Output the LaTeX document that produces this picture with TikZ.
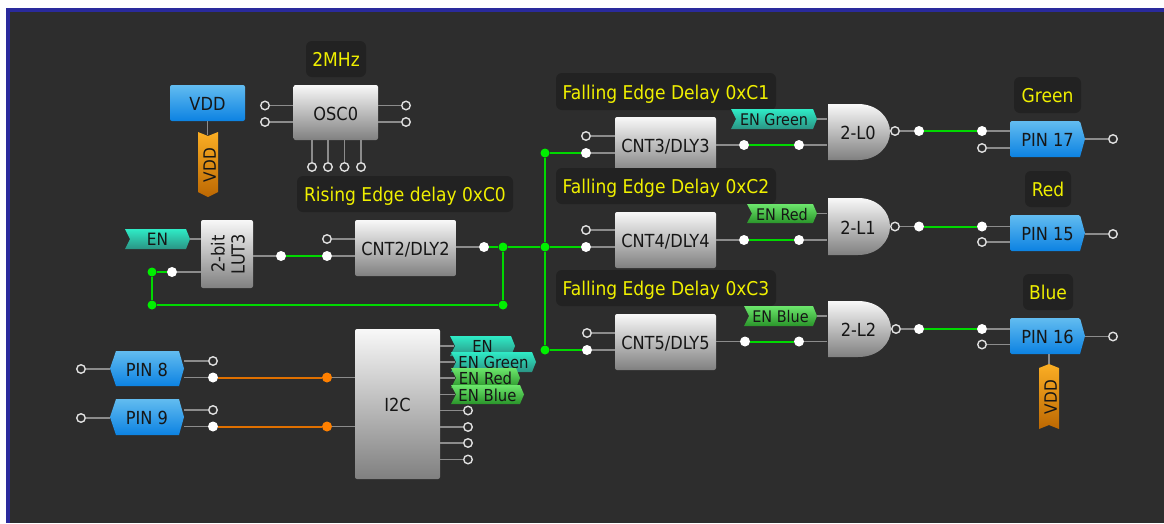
\documentclass[tikz,border=0pt]{standalone}
\usepackage{fontspec}
\usepackage{graphicx}
\setmainfont{DejaVu Sans Condensed}
\definecolor{bgdark}{HTML}{2D2D2D}
\definecolor{frameblue}{HTML}{2A2A9C}
\definecolor{labelbg}{HTML}{222222}
\definecolor{labeltxt}{HTML}{F0F000}
\definecolor{wiregreen}{HTML}{00D800}
\definecolor{dotgreen}{HTML}{00F000}
\definecolor{wireorange}{HTML}{E07000}
\definecolor{dotorange}{HTML}{FF8000}
\definecolor{stemgray}{HTML}{8C8C8C}
\definecolor{blktop}{HTML}{F8F8F8}
\definecolor{blkbot}{HTML}{808080}
\definecolor{bluetop}{HTML}{62BCF0}
\definecolor{bluebot}{HTML}{0C82E2}
\definecolor{orgtop}{HTML}{FBAE24}
\definecolor{orgbot}{HTML}{BC6802}
\definecolor{tealtop}{HTML}{2FEBC6}
\definecolor{tealbot}{HTML}{2A9484}
\definecolor{grntop}{HTML}{6CE66C}
\definecolor{grnbot}{HTML}{2A952A}
\definecolor{inktxt}{HTML}{161616}
\tikzset{
  blockbox/.style={rounded corners=2pt,top color=blktop,bottom color=blkbot,inner sep=0pt,text=inktxt,font=\fontsize{18}{20}\selectfont,align=center,text height=15.5pt,text depth=0pt},
  emptybox/.style={rounded corners=2pt,top color=blktop,bottom color=blkbot,inner sep=0pt},
  labelbox/.style={rounded corners=6pt,fill=labelbg,inner sep=0pt,text=labeltxt,font=\fontsize{19}{20}\selectfont,text height=15.5pt,text depth=0pt},
  shapetext/.style={inner sep=0pt,text=inktxt,font=\fontsize{18}{20}\selectfont,text height=15.5pt,text depth=0pt},
  tagtext/.style={inner sep=0pt,text=inktxt,font=\fontsize{16}{17}\selectfont,text height=13pt,text depth=0pt},
  hollowpin/.style={circle,draw=black!12,line width=1.4pt,fill=bgdark,minimum size=8.5pt,inner sep=0pt},
  whitepin/.style={circle,fill=white,minimum size=10pt,inner sep=0pt},
  greendot/.style={circle,fill=dotgreen,minimum size=9pt,inner sep=0pt},
  orangedot/.style={circle,fill=dotorange,minimum size=10pt,inner sep=0pt},
  stem/.style={draw=stemgray,line width=1.4pt},
  greenwire/.style={draw=wiregreen,line width=2pt},
  orangewire/.style={draw=wireorange,line width=2pt}
}
\newcommand\blk[6]{\node[blockbox,minimum width=#4pt-#2pt,minimum height=#5pt-#3pt] (#1) at ({(#2+#4)/2},{(#3+#5)/2}) {#6};}
\newcommand\lbl[6]{\node[labelbox,minimum width=#4pt-#2pt,minimum height=#5pt-#3pt] (#1) at ({(#2+#4)/2},{(#3+#5)/2}) {#6};}
\newcommand\sigtag[8]{%
  \path[top color=#6,bottom color=#7] (#2,#4) -- ({#3-4},#4) -- (#3,{(#4+#5)/2}) -- ({#3-4},#5) -- (#2,#5) -- ({#2+5},{(#4+#5)/2}) -- cycle;
  \node[tagtext,minimum width=#3pt-#2pt,minimum height=#5pt-#4pt] (#1) at ({(#2+#3)/2},{(#4+#5)/2}) {#8};}
\newcommand\pinright[6]{%
  \path[top color=bluetop,bottom color=bluebot,rounded corners=1.5pt] (#2,#4) -- ({#3-5},#4) [sharp corners] -- (#3,{(#4+#5)/2}) -- ({#3-5},#5) [rounded corners=1.5pt] -- (#2,#5) -- cycle;
  \node[shapetext,minimum width=#3pt-#2pt,minimum height=#5pt-#4pt] (#1) at ({(#2+#3)/2},{(#4+#5)/2}) {#6};}
\newcommand\pinhex[6]{%
  \path[top color=bluetop,bottom color=bluebot] (#2,{(#4+#5)/2}) -- ({#2+6},#4) -- ({#3-5},#4) -- (#3,{(#4+#5)/2}) -- ({#3-5},#5) -- ({#2+6},#5) -- cycle;
  \node[shapetext,minimum width=#3pt-#2pt,minimum height=#5pt-#4pt] (#1) at ({(#2+#3)/2},{(#4+#5)/2}) {#6};}
\newcommand\gate[6]{%
  \path[top color=blktop,bottom color=blkbot] (#2,#3) -- ({#2+30},#3) .. controls ({#4-12},#3) and (#4,{#3+14}) .. (#4,{(#3+#5)/2}) .. controls (#4,{#5-14}) and ({#4-12},#5) .. ({#2+30},#5) -- (#2,#5) -- cycle;
  \node[shapetext,minimum width=#4pt-#2pt,minimum height=#5pt-#3pt] (#1) at ({(#2+#4)/2-1},{(#3+#5)/2}) {#6};}
\begin{document}
\begin{tikzpicture}[x=1pt,y=-1pt]
\useasboundingbox (0,0) rectangle (1164,523);
\fill[white] (0,0) rectangle (1164,523);
\fill[frameblue] (6,8) rectangle (1164,523);
\fill[bgdark] (10,12) rectangle (1164,523);

% --- blocks
\node[rounded corners=2pt,top color=bluetop,bottom color=bluebot,inner sep=0pt,text=inktxt,font=\fontsize{18}{20}\selectfont,text height=15.5pt,text depth=0pt,minimum width=75pt,minimum height=36pt] (vddsrc) at (207.5,103) {VDD};
\blk{osc}{293.5}{85}{378}{140}{OSC0}
\node[emptybox,minimum width=52pt,minimum height=68pt] (lut) at (227,254) {};
\node[inner sep=0pt,text=inktxt,font=\fontsize{18}{20}\selectfont,align=center,rotate=90] (luttext) at ([xshift=1pt]lut.center) {2-bit\\LUT3};
\blk{cnttwo}{355}{220}{456}{276}{CNT2/DLY2}
\blk{cntthree}{615}{117}{716}{173}{CNT3/DLY3}
\blk{cntfour}{615}{212}{716}{268}{CNT4/DLY4}
\blk{cntfive}{615}{314}{716}{370}{CNT5/DLY5}
\blk{itwoc}{355}{329}{440}{479}{I2C}
\gate{gzero}{828}{104}{890}{160}{2-L0}
\gate{gone}{828}{198}{890}{255}{2-L1}
\gate{gtwo}{828}{301}{891}{357}{2-L2}
\pinright{pseventeen}{1010}{1085}{121}{157}{PIN 17}
\pinright{pfifteen}{1010}{1085}{215}{251}{PIN 15}
\pinright{psixteen}{1010}{1085}{318}{354}{PIN 16}
\pinhex{peight}{110}{184}{351}{386}{PIN 8}
\pinhex{pnine}{110}{184}{399}{435}{PIN 9}

% --- captions
\lbl{ltwomhz}{306}{41}{366}{77}{2MHz}
\lbl{lrise}{297}{176}{513}{212}{Rising Edge delay 0xC0}
\lbl{lcone}{556}{73}{776}{110}{Falling Edge Delay 0xC1}
\lbl{lctwo}{556}{168}{776}{204}{Falling Edge Delay 0xC2}
\lbl{lcthree}{556}{270}{776}{306}{Falling Edge Delay 0xC3}
\lbl{lgreen}{1014}{77}{1081}{113}{Green}
\lbl{lred}{1025}{171}{1071}{207}{Red}
\lbl{lblue}{1023}{274}{1073}{310}{Blue}

% --- ribbons
\path[top color=orgtop,bottom color=orgbot] (198,132) -- (208,136) -- (218,132) -- (218,192) -- (208,197) -- (198,192) -- cycle;
\node[shapetext,rotate=90,font=\fontsize{17}{18}\selectfont,minimum width=60pt,minimum height=20pt] (vddone) at (208,165) {VDD};
\path[top color=orgtop,bottom color=orgbot] (1049,364) -- (1059,368) -- (1059,429) -- (1049,425) -- (1039,429) -- (1039,368) -- cycle;
\node[shapetext,rotate=90,font=\fontsize{17}{18}\selectfont,minimum width=66pt,minimum height=20pt] (vddtwo) at (1049,397) {VDD};

% --- tags
\sigtag{enmain}{125}{190}{229}{249}{tealtop}{tealbot}{\fontsize{17}{18}\selectfont EN}
\sigtag{engreen}{731}{817}{109}{129}{tealtop}{tealbot}{EN Green}
\sigtag{enred}{747}{817}{204}{223}{grntop}{grnbot}{EN Red}
\sigtag{enblue}{744}{817}{306}{326}{grntop}{grnbot}{EN Blue}
\sigtag{ia}{450}{515}{336}{356}{tealtop}{tealbot}{\fontsize{16.5}{17}\selectfont EN}
\sigtag{ib}{451}{536}{352}{372}{tealtop}{tealbot}{\fontsize{16.5}{17}\selectfont EN Green}
\sigtag{ic}{451}{520}{368}{388}{grntop}{grnbot}{\fontsize{16.5}{17}\selectfont EN Red}
\sigtag{id}{451}{524}{385}{404}{grntop}{grnbot}{\fontsize{16.5}{17}\selectfont EN Blue}

% --- pins
\node[hollowpin] (oa) at (265,105.5) {};
\node[hollowpin] (ob) at (265,122) {};
\node[hollowpin] (oc) at (406,105.5) {};
\node[hollowpin] (od) at (406,122) {};
\node[hollowpin] (oe) at (312,167) {};
\node[hollowpin] (of) at (328,167) {};
\node[hollowpin] (og) at (344.5,167) {};
\node[hollowpin] (oh) at (361,167) {};
\node[whitepin] (la) at (172,272) {};
\node[greendot] (ja) at (152,272) {};
\node[greendot] (jb) at (152,305) {};
\node[greendot] (jc) at (503,305) {};
\node[greendot] (jd) at (503,247) {};
\node[whitepin] (lo) at (281,256) {};
\node[whitepin] (ca) at (327,256) {};
\node[hollowpin] (cb) at (327,239) {};
\node[whitepin] (cc) at (484,247) {};
\node[greendot] (je) at (545,153) {};
\node[greendot] (jf) at (545,247) {};
\node[greendot] (jg) at (545,350) {};
% row 1
\node[hollowpin] (ra) at (586,136) {};
\node[whitepin] (rb) at (586,153) {};
\node[whitepin] (rc) at (744,145) {};
\node[whitepin] (rd) at (799,145) {};
\node[hollowpin] (re) at (895,131) {};
\node[whitepin] (rf) at (919,131) {};
\node[whitepin] (rg) at (982,131) {};
\node[hollowpin] (rh) at (982,148) {};
\node[hollowpin] (ri) at (1113,139) {};
% row 2
\node[hollowpin] (sa) at (586,230) {};
\node[whitepin] (sb) at (586,247) {};
\node[whitepin] (sc) at (744,240) {};
\node[whitepin] (sd) at (799,240) {};
\node[hollowpin] (se) at (895,226.5) {};
\node[whitepin] (sf) at (919,226.5) {};
\node[whitepin] (sg) at (982,226.5) {};
\node[hollowpin] (sh) at (982,242) {};
\node[hollowpin] (si) at (1113,234) {};
% row 3
\node[hollowpin] (ta) at (587,333) {};
\node[whitepin] (tb) at (587,350) {};
\node[whitepin] (tc) at (745,341.5) {};
\node[whitepin] (td) at (799,341.5) {};
\node[hollowpin] (te) at (896,329) {};
\node[whitepin] (tf) at (919,329) {};
\node[whitepin] (tg) at (982,329) {};
\node[hollowpin] (th) at (982,344.5) {};
\node[hollowpin] (ti) at (1113,336.5) {};
% left pins
\node[hollowpin] (ua) at (81,369) {};
\node[hollowpin] (ub) at (213,361) {};
\node[whitepin] (uc) at (213,377.5) {};
\node[orangedot] (ud) at (327,377.5) {};
\node[hollowpin] (va) at (81,418) {};
\node[hollowpin] (vb) at (213,410) {};
\node[whitepin] (vc) at (213,426.5) {};
\node[orangedot] (vd) at (327,426.5) {};
% i2c outputs
\node[hollowpin] (wa) at (468,410.5) {};
\node[hollowpin] (wb) at (468,427) {};
\node[hollowpin] (wc) at (468,443) {};
\node[hollowpin] (wd) at (468,459.5) {};

% --- grey stems
\draw[stem] (vddsrc.south) -- (vddsrc.south |- vddone.east);
\draw[stem] (oa) -- (oa -| osc.west);
\draw[stem] (ob) -- (ob -| osc.west);
\draw[stem] (oc) -- (oc -| osc.east);
\draw[stem] (od) -- (od -| osc.east);
\draw[stem] (oe) -- (oe |- osc.south);
\draw[stem] (of) -- (of |- osc.south);
\draw[stem] (og) -- (og |- osc.south);
\draw[stem] (oh) -- (oh |- osc.south);
\draw[stem] (enmain.east) -- (enmain.east -| lut.west);
\draw[stem] (la) -- (la -| lut.west);
\draw[stem] (lo) -- (lo -| lut.east);
\draw[stem] (ca) -- (ca -| cnttwo.west);
\draw[stem] (cb) -- (cb -| cnttwo.west);
\draw[stem] (cc) -- (cc -| cnttwo.east);
\draw[stem] (ra) -- (ra -| cntthree.west);
\draw[stem] (rb) -- (rb -| cntthree.west);
\draw[stem] (rc) -- (rc -| cntthree.east);
\draw[stem] (rd) -- (rd -| gzero.west);
\draw[stem] (engreen.east) -- (engreen.east -| gzero.west);
\draw[stem] (re) -- (rf);
\draw[stem] (rg) -- (rg -| pseventeen.west);
\draw[stem] (rh) -- (rh -| pseventeen.west);
\draw[stem] (ri) -- (ri -| pseventeen.east);
\draw[stem] (sa) -- (sa -| cntfour.west);
\draw[stem] (sb) -- (sb -| cntfour.west);
\draw[stem] (sc) -- (sc -| cntfour.east);
\draw[stem] (sd) -- (sd -| gone.west);
\draw[stem] (enred.east) -- (enred.east -| gone.west);
\draw[stem] (se) -- (sf);
\draw[stem] (sg) -- (sg -| pfifteen.west);
\draw[stem] (sh) -- (sh -| pfifteen.west);
\draw[stem] (si) -- (si -| pfifteen.east);
\draw[stem] (ta) -- (ta -| cntfive.west);
\draw[stem] (tb) -- (tb -| cntfive.west);
\draw[stem] (tc) -- (tc -| cntfive.east);
\draw[stem] (td) -- (td -| gtwo.west);
\draw[stem] (enblue.east) -- (enblue.east -| gtwo.west);
\draw[stem] (te) -- (tf);
\draw[stem] (tg) -- (tg -| psixteen.west);
\draw[stem] (th) -- (th -| psixteen.west);
\draw[stem] (ti) -- (ti -| psixteen.east);
\draw[stem] (vddtwo |- psixteen.south) -- (vddtwo.east);
\draw[stem] (ua) -- (ua -| peight.west);
\draw[stem] (ub) -- (ub -| peight.east);
\draw[stem] (uc) -- (uc -| peight.east);
\draw[stem] (ud) -- (ud -| itwoc.west);
\draw[stem] (va) -- (va -| pnine.west);
\draw[stem] (vb) -- (vb -| pnine.east);
\draw[stem] (vc) -- (vc -| pnine.east);
\draw[stem] (vd) -- (vd -| itwoc.west);
\draw[stem] (ia.west -| itwoc.east) -- ([xshift=4pt]ia.west);
\draw[stem] (ib.west -| itwoc.east) -- ([xshift=4pt]ib.west);
\draw[stem] (ic.west -| itwoc.east) -- ([xshift=4pt]ic.west);
\draw[stem] (id.west -| itwoc.east) -- ([xshift=4pt]id.west);
\draw[stem] (wa) -- (wa -| itwoc.east);
\draw[stem] (wb) -- (wb -| itwoc.east);
\draw[stem] (wc) -- (wc -| itwoc.east);
\draw[stem] (wd) -- (wd -| itwoc.east);

% --- coloured wires
\draw[greenwire] (la) -- (ja);
\draw[greenwire] (ja) -- (jb);
\draw[greenwire] (jb) -- (jc);
\draw[greenwire] (jc) -- (jd);
\draw[greenwire] (cc) -- (jd);
\draw[greenwire] (jd) -- (jf);
\draw[greenwire] (jf) -- (sb);
\draw[greenwire] (je) -- (jf);
\draw[greenwire] (jf) -- (jg);
\draw[greenwire] (je) -- (rb);
\draw[greenwire] (jg) -- (tb);
\draw[greenwire] (lo) -- (ca);
\draw[greenwire] (rc) -- (rd);
\draw[greenwire] (rf) -- (rg);
\draw[greenwire] (sc) -- (sd);
\draw[greenwire] (sf) -- (sg);
\draw[greenwire] (tc) -- (td);
\draw[greenwire] (tf) -- (tg);
\draw[orangewire] (uc) -- (ud);
\draw[orangewire] (vc) -- (vd);
\end{tikzpicture}
\end{document}
